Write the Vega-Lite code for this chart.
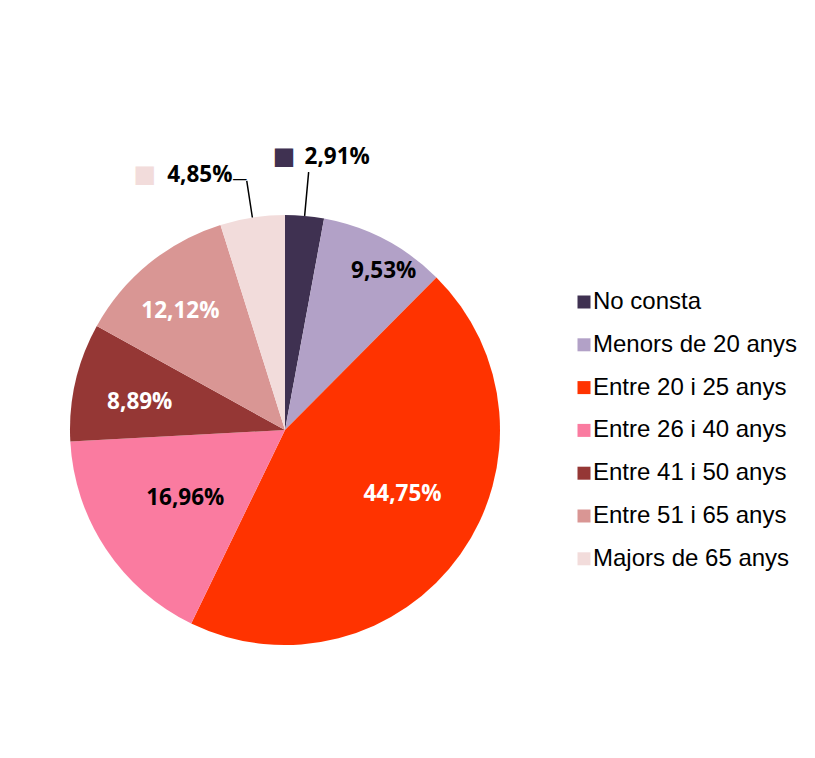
{
  "$schema": "https://vega.github.io/schema/vega-lite/v6.json",
  "width": 570,
  "height": 600,
  "autosize": {"type": "none"},
  "padding": {"left": 0, "top": 130, "right": 245, "bottom": 28},
  "background": "white",
  "config": {"view": {"stroke": null}},
  "data": {
    "values": [
      {"cat": "No consta", "value": 2.91, "label": "2,91%", "order": 1},
      {"cat": "Menors de 20 anys", "value": 9.53, "label": "9,53%", "order": 2},
      {"cat": "Entre 20 i 25 anys", "value": 44.75, "label": "44,75%", "order": 3},
      {"cat": "Entre 26 i 40 anys", "value": 16.96, "label": "16,96%", "order": 4},
      {"cat": "Entre 41 i 50 anys", "value": 8.89, "label": "8,89%", "order": 5},
      {"cat": "Entre 51 i 65 anys", "value": 12.12, "label": "12,12%", "order": 6},
      {"cat": "Majors de 65 anys", "value": 4.85, "label": "4,85%", "order": 7}
    ]
  },
  "encoding": {
    "theta": {"field": "value", "type": "quantitative", "stack": true},
    "order": {"field": "order", "type": "quantitative"}
  },
  "layer": [
    {
      "mark": {"type": "arc", "outerRadius": 215},
      "encoding": {
        "color": {
          "field": "cat",
          "type": "nominal",
          "scale": {
            "domain": ["No consta", "Menors de 20 anys", "Entre 20 i 25 anys", "Entre 26 i 40 anys", "Entre 41 i 50 anys", "Entre 51 i 65 anys", "Majors de 65 anys"],
            "range": ["#3F3151", "#B2A1C7", "#FF3300", "#FA7BA0", "#953735", "#D99694", "#F2DCDB"]
          },
          "legend": {
            "title": null,
            "orient": "none",
            "legendX": 572,
            "legendY": 160,
            "padding": 0,
            "symbolType": "square",
            "symbolSize": 169,
            "symbolStrokeWidth": 0,
            "labelFont": "Liberation Sans",
            "labelFontSize": 24,
            "labelColor": "#000000",
            "labelOffset": -3,
            "rowPadding": 18.8,
            "labelLimit": 400
          }
        }
      }
    },
    {
      "mark": {"type": "arc", "radius": 215, "radius2": 259, "padAngle": 3, "filled": false, "stroke": "#000000", "strokeWidth": 1.5},
      "encoding": {
        "strokeOpacity": {"condition": {"test": "datum.cat === 'No consta'", "value": 1}, "value": 0}
      }
    },
    {
      "mark": {"type": "arc", "radius": 215, "radius2": 252, "padAngle": 3, "filled": false, "stroke": "#000000", "strokeWidth": 1.5},
      "encoding": {
        "strokeOpacity": {"condition": {"test": "datum.cat === 'Majors de 65 anys'", "value": 1}, "value": 0}
      }
    },
    {
      "mark": {"type": "text", "font": "DejaVu Sans", "fontSize": 15, "align": "center", "baseline": "middle", "fill": "#000000", "dx": -5, "dy": 11},
      "encoding": {
        "radius": {"value": 265},
        "text": {"condition": {"test": "datum.cat === 'Majors de 65 anys'", "value": "—"}, "value": ""}
      }
    },
    {
      "mark": {"type": "text", "font": "Open Sans", "fontWeight": "bold", "fontSize": 22.5, "align": "center", "baseline": "middle", "fill": "#000000", "dx": 12, "dy": 7},
      "encoding": {
        "radius": {"value": 187},
        "text": {"condition": {"test": "datum.cat === 'Menors de 20 anys'", "field": "label"}, "value": ""}
      }
    },
    {
      "mark": {"type": "text", "font": "Open Sans", "fontWeight": "bold", "fontSize": 22.5, "align": "center", "baseline": "middle", "fill": "#FFFFFF", "dx": 9, "dy": -13},
      "encoding": {
        "radius": {"value": 133},
        "text": {"condition": {"test": "datum.cat === 'Entre 20 i 25 anys'", "field": "label"}, "value": ""}
      }
    },
    {
      "mark": {"type": "text", "font": "Open Sans", "fontWeight": "bold", "fontSize": 22.5, "align": "center", "baseline": "middle", "fill": "#000000", "dx": 1, "dy": 1},
      "encoding": {
        "radius": {"value": 121},
        "text": {"condition": {"test": "datum.cat === 'Entre 26 i 40 anys'", "field": "label"}, "value": ""}
      }
    },
    {
      "mark": {"type": "text", "font": "Open Sans", "fontWeight": "bold", "fontSize": 22.5, "align": "center", "baseline": "middle", "fill": "#FFFFFF", "dx": -1, "dy": 5},
      "encoding": {
        "radius": {"value": 148},
        "text": {"condition": {"test": "datum.cat === 'Entre 41 i 50 anys'", "field": "label"}, "value": ""}
      }
    },
    {
      "mark": {"type": "text", "font": "Open Sans", "fontWeight": "bold", "fontSize": 22.5, "align": "center", "baseline": "middle", "fill": "#FFFFFF", "dx": -4, "dy": 4},
      "encoding": {
        "radius": {"value": 159},
        "text": {"condition": {"test": "datum.cat === 'Entre 51 i 65 anys'", "field": "label"}, "value": ""}
      }
    },
    {
      "mark": {"type": "text", "font": "Open Sans", "fontWeight": "bold", "fontSize": 22.5, "align": "center", "baseline": "middle", "fill": "#000000", "dx": 27, "dy": 2},
      "encoding": {
        "radius": {"value": 276},
        "text": {"condition": {"test": "datum.cat === 'No consta'", "field": "label"}, "value": ""}
      }
    },
    {
      "mark": {"type": "text", "font": "Open Sans", "fontWeight": "bold", "fontSize": 22.5, "align": "center", "baseline": "middle", "fill": "#000000", "dx": -45, "dy": 7},
      "encoding": {
        "radius": {"value": 265},
        "text": {"condition": {"test": "datum.cat === 'Majors de 65 anys'", "field": "label"}, "value": ""}
      }
    },
    {
      "mark": {"type": "text", "font": "DejaVu Sans", "fontSize": 24, "align": "center", "baseline": "middle", "dx": -26, "dy": 2},
      "encoding": {
        "radius": {"value": 276},
        "color": {"field": "cat", "type": "nominal", "legend": null},
        "text": {"condition": {"test": "datum.cat === 'No consta'", "value": "■"}, "value": ""}
      }
    },
    {
      "mark": {"type": "text", "font": "DejaVu Sans", "fontSize": 24, "align": "center", "baseline": "middle", "dx": -100, "dy": 7},
      "encoding": {
        "radius": {"value": 265},
        "color": {"field": "cat", "type": "nominal", "legend": null},
        "text": {"condition": {"test": "datum.cat === 'Majors de 65 anys'", "value": "■"}, "value": ""}
      }
    }
  ]
}
